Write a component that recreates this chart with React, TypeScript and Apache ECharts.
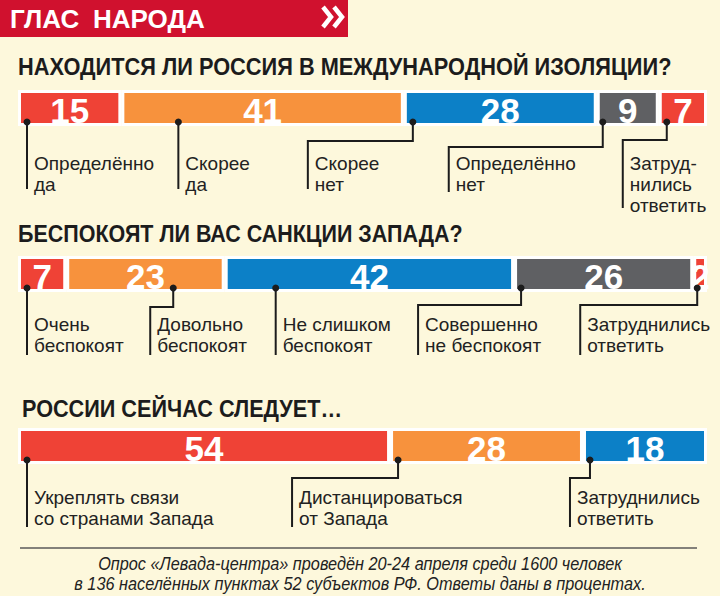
import React, { useEffect, useRef } from 'react';
import * as echarts from 'echarts';

// ---------- data ----------
const q1Title = 'НАХОДИТСЯ ЛИ РОССИЯ В МЕЖДУНАРОДНОЙ ИЗОЛЯЦИИ?';
const q1Categories = ['Определённо\nда', 'Скорее\nда', 'Скорее\nнет', 'Определённо\nнет', 'Затруд-\nнились\nответить'];
const q1Values = [15, 41, 28, 9, 7];

const q2Title = 'БЕСПОКОЯТ ЛИ ВАС САНКЦИИ ЗАПАДА?';
const q2Categories = ['Очень\nбеспокоят', 'Довольно\nбеспокоят', 'Не слишком\nбеспокоят', 'Совершенно\nне беспокоят', 'Затруднились\nответить'];
const q2Values = [7, 23, 42, 26, 2];

const q3Title = 'РОССИИ СЕЙЧАС СЛЕДУЕТ…';
const q3Categories = ['Укреплять связи\nсо странами Запада', 'Дистанцироваться\nот Запада', 'Затруднились\nответить'];
const q3Values = [54, 28, 18];

const headerText1 = 'ГЛАС';
const headerText2 = 'НАРОДА';
const footerLines = [
  'Опрос «Левада-центра» проведён 20-24 апреля среди 1600 человек',
  'в 136 населённых пунктах 52 субъектов РФ. Ответы даны в процентах.',
];

// ---------- styles / layout ----------
const RED = '#ef4236';
const ORANGE = '#f7923d';
const BLUE = '#0c80c7';
const GRAY = '#5f6063';
const BG = '#fdf8dc';
const INK = '#1c1c1c';
const SANS = "'Liberation Sans', Arial, sans-serif";

const q1Colors = [RED, ORANGE, BLUE, GRAY, RED];
const q2Colors = [RED, ORANGE, BLUE, GRAY, RED];
const q3Colors = [RED, ORANGE, BLUE];

const BAR_LEFT = 18;
const BAR_WIDTH = 689;
const BAR_HEIGHT = 36;

type Leader = { dot: number; shift: number; elbow: number; len: number };

const layouts: { top: number; titleY: number; titleX: number; titleW: number; labelDy: number; leaders: Leader[] }[] = [
  {
    top: 90, titleY: 67, titleX: 18, titleW: 654, labelDy: 37,
    leaders: [
      { dot: 9, shift: 0, elbow: 0, len: 63 },
      { dot: 57, shift: 0, elbow: 0, len: 63 },
      { dot: 9, shift: -105, elbow: 15, len: 63 },
      { dot: 6, shift: -154, elbow: 21, len: 66 },
      { dot: 8, shift: -44, elbow: 14, len: 82 },
    ],
  },
  {
    top: 256, titleY: 234, titleX: 18, titleW: 445, labelDy: 32.5,
    leaders: [
      { dot: 9, shift: 0, elbow: 0, len: 63 },
      { dot: 107, shift: -23, elbow: 15, len: 63 },
      { dot: 51, shift: 0, elbow: 0, len: 63 },
      { dot: 7, shift: -103, elbow: 13, len: 63 },
      { dot: 4, shift: -117, elbow: 13, len: 63 },
    ],
  },
  {
    top: 428, titleY: 409, titleX: 22, titleW: 320, labelDy: 33,
    leaders: [
      { dot: 9, shift: 0, elbow: 0, len: 63 },
      { dot: 8, shift: -106, elbow: 14, len: 63 },
      { dot: 7, shift: -20, elbow: 14, len: 63 },
    ],
  },
];

const questions = [
  { title: q1Title, cats: q1Categories, values: q1Values, colors: q1Colors },
  { title: q2Title, cats: q2Categories, values: q2Values, colors: q2Colors },
  { title: q3Title, cats: q3Categories, values: q3Values, colors: q3Colors },
];

function measure(text: string, font: string): number {
  const ctx = document.createElement('canvas').getContext('2d');
  if (!ctx) return text.length * 10;
  ctx.font = font;
  return ctx.measureText(text).width;
}

function buildOption() {
  const grid: any[] = [];
  const xAxis: any[] = [];
  const yAxis: any[] = [];
  const series: any[] = [];
  const graphic: any[] = [];

  // header
  graphic.push({ type: 'rect', shape: { x: 0, y: 0, width: 348, height: 37 }, style: { fill: '#d0112e' } });
  graphic.push({ type: 'text', x: 10, y: 19, style: { text: headerText1, fill: '#fff', fontSize: 26, fontWeight: 'bold', fontFamily: SANS, textVerticalAlign: 'middle', verticalAlign: 'middle' } });
  graphic.push({ type: 'text', x: 93, y: 19, style: { text: headerText2, fill: '#fff', fontSize: 26, fontWeight: 'bold', fontFamily: SANS, textVerticalAlign: 'middle', verticalAlign: 'middle' } });
  [323, 334].forEach((cx) => {
    graphic.push({
      type: 'polyline',
      shape: { points: [[cx, 7], [cx + 8, 17], [cx, 27]] },
      style: { stroke: '#fff', lineWidth: 4.5, fill: null, lineJoin: 'miter' },
    });
  });

  const titleFont = 24;
  questions.forEach((q, i) => {
    const L = layouts[i];
    grid.push({ left: BAR_LEFT, top: L.top, width: BAR_WIDTH, height: BAR_HEIGHT, containLabel: false });
    xAxis.push({ gridIndex: i, type: 'value', min: 0, max: 100, show: false });
    yAxis.push({ gridIndex: i, type: 'category', data: ['q' + i], show: false });

    const w = measure(q.title, `bold ${titleFont}px 'Liberation Sans'`);
    graphic.push({
      type: 'text', x: L.titleX, y: L.titleY, scaleX: L.titleW / w,
      style: { text: q.title, fill: INK, fontSize: titleFont, fontWeight: 'bold', fontFamily: SANS, textVerticalAlign: 'middle', verticalAlign: 'middle' },
    });

    q.values.forEach((v, j) => {
      series.push({
        type: 'bar',
        name: q.cats[j].replace(/\n/g, ' '),
        stack: 'stack' + i,
        xAxisIndex: i,
        yAxisIndex: i,
        barWidth: '100%',
        data: [v],
        itemStyle: { color: q.colors[j], borderColor: '#ffffff', borderWidth: 3 },
        label: {
          show: true,
          position: 'inside',
          formatter: '{c}',
          color: '#fff',
          fontSize: 35,
          fontWeight: 'bold',
          fontFamily: SANS,
          offset: [0, 2],
        },
        silent: true,
      });
    });

    const values = q.values;
    const cats = q.cats;
    series.push({
      type: 'custom',
      xAxisIndex: i,
      yAxisIndex: i,
      silent: true,
      z: 10,
      data: values.map((_, j) => [j, 0]),
      renderItem: (params: any, api: any) => {
        const j = api.value(0);
        let start = 0;
        for (let k = 0; k < j; k++) start += values[k];
        const p = api.coord([start, 0]);
        const band = api.size([0, 1])[1];
        const bottom = p[1] + band / 2;
        const ld = L.leaders[j];
        const dx = p[0] + ld.dot;
        const dy = bottom - 4;
        const lx = dx + ld.shift;
        const ey = bottom + ld.elbow;
        const endY = bottom + ld.len;
        const points = ld.shift ? [[dx, dy], [dx, ey], [lx, ey], [lx, endY]] : [[dx, dy], [dx, endY]];
        return {
          type: 'group',
          children: [
            { type: 'polyline', shape: { points }, style: { stroke: INK, lineWidth: 2, fill: null } },
            { type: 'circle', shape: { cx: dx, cy: dy, r: 3.5 }, style: { fill: INK } },
            {
              type: 'text',
              x: lx + 7,
              y: bottom + L.labelDy - 10.5,
              style: {
                text: cats[j],
                fill: '#222',
                fontSize: 19,
                fontFamily: SANS,
                lineHeight: 21,
                textVerticalAlign: 'top',
                verticalAlign: 'top',
              },
            },
          ],
        };
      },
    });
  });

  // footer
  graphic.push({ type: 'line', shape: { x1: 20, y1: 548, x2: 697, y2: 548 }, style: { stroke: '#5a5a5a', lineWidth: 1.5 } });
  const footFont = 18;
  const fw = measure(footerLines[0], `italic ${footFont}px 'Liberation Sans'`);
  const fScale = 524 / fw;
  footerLines.forEach((t, k) => {
    graphic.push({
      type: 'text', x: 360, y: 564 + k * 20, scaleX: fScale,
      style: { text: t, fill: '#222', fontSize: footFont, fontStyle: 'italic', fontFamily: SANS, textAlign: 'center', align: 'center', textVerticalAlign: 'middle', verticalAlign: 'middle' },
    });
  });

  return {
    animation: false,
    backgroundColor: BG,
    grid,
    xAxis,
    yAxis,
    series,
    graphic,
  };
}

export default function App() {
  const ref = useRef<HTMLDivElement>(null);
  useEffect(() => {
    if (!ref.current) return;
    const chart = echarts.init(ref.current, undefined, { renderer: 'svg' });
    chart.setOption(buildOption() as any);
    return () => chart.dispose();
  }, []);
  return <div ref={ref} style={{ position: 'absolute', left: 0, top: 0, width: 720, height: 596 }} />;
}
